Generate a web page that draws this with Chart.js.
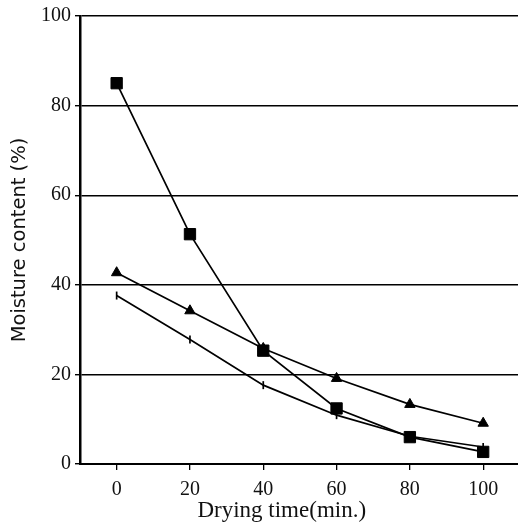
<!DOCTYPE html>
<html>
<head>
<meta charset="utf-8">
<script src="https://cdn.jsdelivr.net/npm/chart.js@4/dist/chart.umd.min.js"></script>
<style>
  html, body { margin: 0; padding: 0; background: #fff; overflow: hidden; }
  canvas { display: block; }
</style>
</head>
<body>
<canvas id="dryChart" width="518" height="526"></canvas>
<script>
// drying time (min.)
const times = [0, 20, 40, 60, 80, 100];
const xTicks = [0, 20, 40, 60, 80, 100];
// moisture content (%) per sample
const squareSeries = [85, 51.3, 25.3, 12.4, 6.0, 2.7];
const triangleSeries = [42.7, 34.2, 25.8, 19.1, 13.3, 9.1];
const tickSeries = [37.6, 27.8, 17.6, 10.9, 6.2, 3.8];

const serif = '"Liberation Serif", "DejaVu Serif", serif';

function pts(vals) {
    return vals.map((v, i) => ({ x: times[i], y: v }));
}

function series(vals, style, radius, extra) {
    return Object.assign({
        data: pts(vals),
        borderColor: '#000',
        backgroundColor: '#000',
        borderWidth: 1.7,
        pointStyle: style,
        pointRadius: radius,
        pointBackgroundColor: '#000',
        pointBorderColor: '#000',
        pointBorderWidth: 1,
        tension: 0
    }, extra || {});
}

// trailing nbsp shifts the centred x title a bit left, like the original
const xTitle = 'Drying time(min.)' + '\u00a0'.repeat(6);

new Chart(document.getElementById('dryChart'), {
    type: 'line',
    data: {
        datasets: [
            series(squareSeries, 'rect', 8),
            series(triangleSeries, 'triangle', 6),
            series(tickSeries, 'line', 4, { pointRotation: 90, pointBorderWidth: 1.7 })
        ]
    },
    options: {
        responsive: false,
        animation: false,
        layout: { autoPadding: false, padding: { top: 14, right: 0, left: 0, bottom: 0 } },
        plugins: { legend: { display: false }, tooltip: { enabled: false } },
        scales: {
            x: {
                type: 'linear',
                min: -10,
                max: 109.5,
                afterBuildTicks: (s) => { s.ticks = xTicks.map(v => ({ value: v })); },
                afterFit: (s) => { s.height = 62; s.paddingLeft = 0; s.paddingRight = 0; },
                grid: { drawOnChartArea: false, drawTicks: true, tickLength: 6, color: '#000', lineWidth: 1.3 },
                border: { display: true, color: '#000', width: 2 },
                ticks: { color: '#111', font: { family: serif, size: 20 }, padding: 8, maxRotation: 0 },
                title: { display: true, text: xTitle, color: '#111', font: { family: serif, size: 23 }, padding: { top: 0, bottom: 1 } }
            },
            y: {
                min: 0,
                max: 100,
                afterFit: (s) => { s.width = 80; },
                grid: { color: '#000', lineWidth: 1.4, drawTicks: true, tickLength: 5 },
                border: { display: true, color: '#000', width: 2.5 },
                ticks: { stepSize: 20, color: '#111', font: { family: serif, size: 20 }, padding: 4 },
                title: { display: true, text: 'Moisture content (%)', color: '#111', font: { family: '"DejaVu Sans", sans-serif', size: 19.5 }, padding: { top: 8, bottom: 6 } }
            }
        }
    }
});
</script>
</body>
</html>
